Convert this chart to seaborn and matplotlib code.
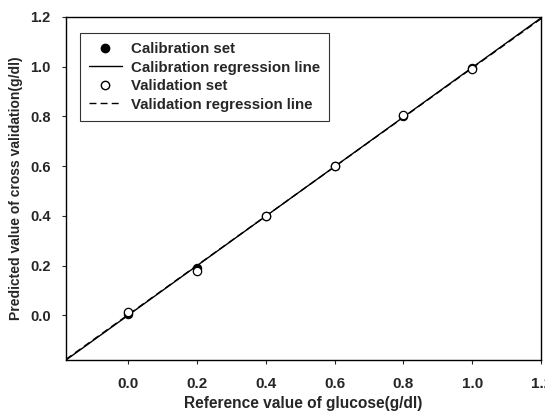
import matplotlib
matplotlib.use("Agg")
import matplotlib.pyplot as plt
import seaborn as sns
import numpy as np
import pandas as pd
from matplotlib.lines import Line2D

sns.set_style("ticks")
plt.rcParams['font.family'] = ['Liberation Sans', 'DejaVu Sans']
plt.rcParams['font.weight'] = 'bold'

ref_levels = [0.0, 0.2, 0.4, 0.6, 0.8, 1.0]
cal_pred = [0.005, 0.190, 0.400, 0.600, 0.800, 0.995]
val_pred = [0.015, 0.180, 0.400, 0.600, 0.805, 0.990]
tick_vals = [0.0, 0.2, 0.4, 0.6, 0.8, 1.0, 1.2]
tick_labels = ["0.0", "0.2", "0.4", "0.6", "0.8", "1.0", "1.2"]

cal = pd.DataFrame({"ref": ref_levels, "pred": cal_pred})
val = pd.DataFrame({"ref": ref_levels, "pred": val_pred})

fig = plt.figure(figsize=(5.45, 4.13), dpi=100)
ax = fig.add_axes([0.121, 0.128, 0.872, 0.831])
ax.set_xlim(-0.18, 1.2)
ax.set_ylim(-0.18, 1.2)

sns.regplot(data=cal, x="ref", y="pred", ax=ax, ci=None, truncate=False,
            scatter=False, line_kws=dict(color="black", lw=1.0, ls="-"))
sns.regplot(data=val, x="ref", y="pred", ax=ax, ci=None, truncate=False,
            scatter=False, line_kws=dict(color="black", lw=1.0, ls=(0, (5, 3))))
sns.scatterplot(data=cal, x="ref", y="pred", ax=ax, color="black", s=36,
                edgecolor="black", linewidth=0.8, zorder=3)
sns.scatterplot(data=val, x="ref", y="pred", ax=ax, color="white", s=36,
                edgecolor="black", linewidth=0.9, zorder=4)

ax.set_xlim(-0.18, 1.2)
ax.set_ylim(-0.18, 1.2)
ax.set_xticks(tick_vals)
ax.set_xticklabels(tick_labels, fontsize=11)
ax.set_yticks(tick_vals)
ax.set_yticklabels(tick_labels, fontsize=10.5)
ax.tick_params(axis="x", direction="out", length=3, width=0.8, pad=9)
ax.tick_params(axis="y", direction="out", length=3, width=0.8, pad=8)
for sp in ax.spines.values():
    sp.set_visible(True)
    sp.set_linewidth(1.0)
    sp.set_color("black")

ax.set_xlabel("Reference value of glucose(g/dl)", fontsize=11.2, fontweight="bold", labelpad=4)
ax.set_ylabel("Predicted value of cross validation(g/dl)", fontsize=10, fontweight="bold", labelpad=5)

handles = [
    Line2D([], [], marker="o", color="black", ls="none", markersize=6),
    Line2D([], [], color="black", lw=1.0),
    Line2D([], [], marker="o", markerfacecolor="white", markeredgecolor="black", ls="none", markersize=6),
    Line2D([], [], color="black", lw=1.0, ls=(0, (5, 3))),
]
labels = ["Calibration set", "Calibration regression line", "Validation set", "Validation regression line"]
leg = ax.legend(handles, labels, loc="upper left", bbox_to_anchor=(0.029, 0.953),
                borderaxespad=0.0,
                fontsize=10.8, frameon=True, fancybox=False, edgecolor="black",
                handlelength=2.2, handletextpad=0.6, borderpad=0.6, labelspacing=0.3)
leg.get_frame().set_linewidth(0.8)

fig.savefig("out.png", dpi=100)
